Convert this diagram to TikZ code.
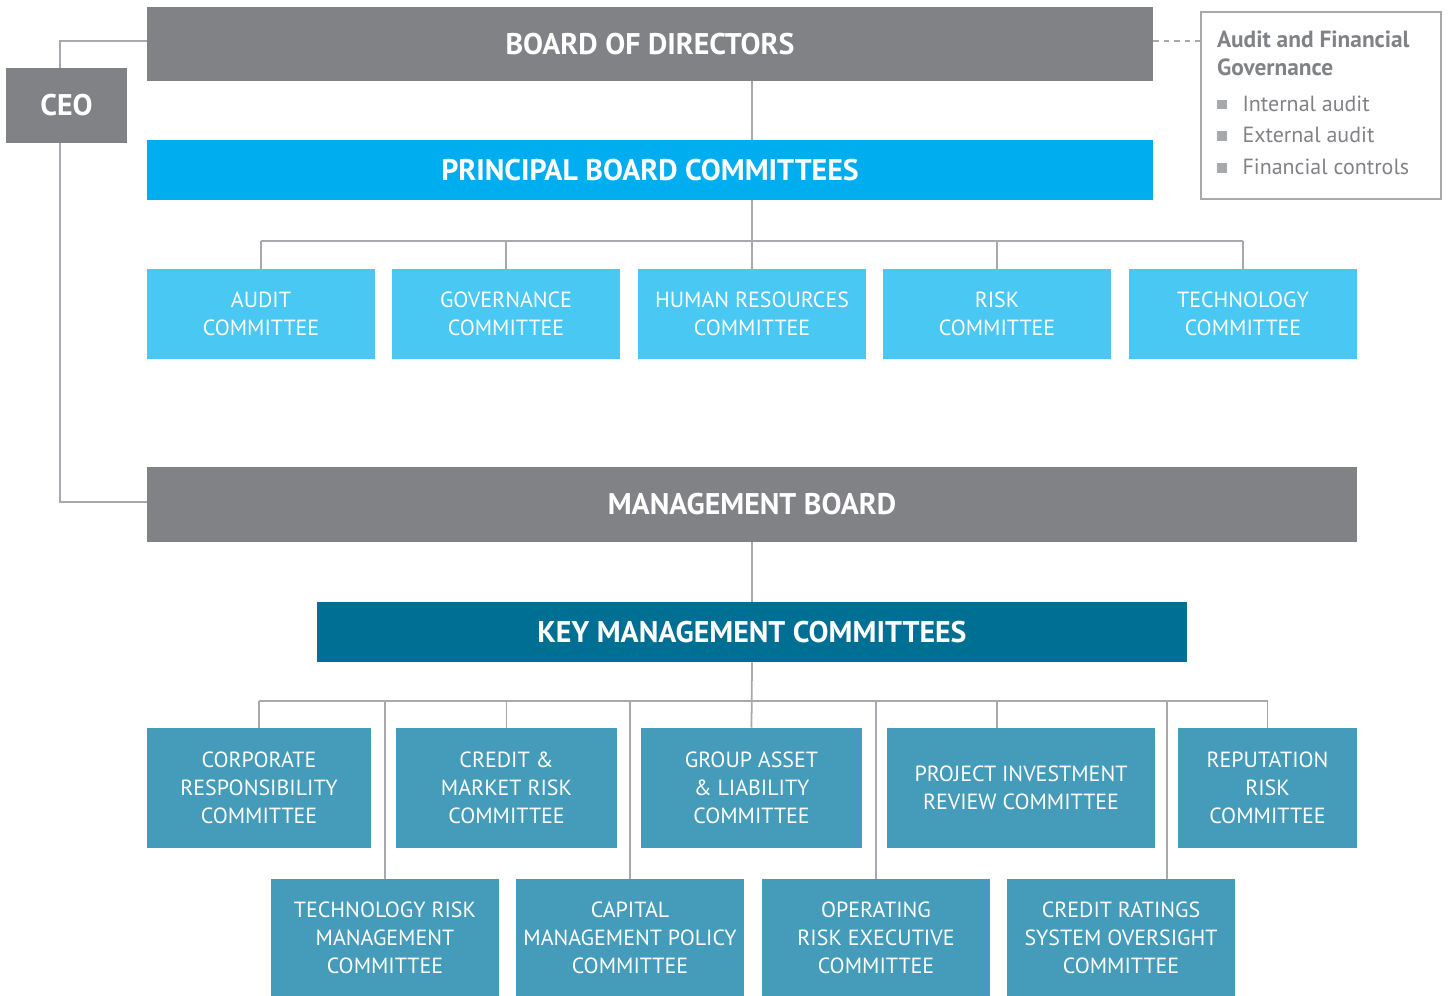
\documentclass[tikz,border=0pt]{standalone}
\usepackage{fontspec}
\setmainfont{PT Sans}
\usepackage{xcolor}
\usepackage{tikz}
\usetikzlibrary{positioning, calc}
\definecolor{boardgray}{HTML}{818286}
\definecolor{brightcyan}{HTML}{00AEEF}
\definecolor{lightcyan}{HTML}{48C8F3}
\definecolor{darkteal}{HTML}{006F94}
\definecolor{tealblue}{HTML}{459BBA}
\definecolor{linegray}{HTML}{A7A9AC}
\tikzstyle{headbox} = [rectangle, text centered, text=white, inner sep=0pt, font=\bfseries\fontsize{17}{20}\selectfont]
\tikzstyle{committee} = [rectangle, align=center, text=white, inner sep=0pt, minimum width=4.56cm, minimum height=1.8cm, fill=lightcyan, font=\fontsize{12.5}{15.9}\selectfont]
\tikzstyle{mgmtcom} = [committee, fill=tealblue, minimum height=2.4cm]
\tikzstyle{govbox} = [rectangle, draw=linegray, line width=1pt, minimum width=4.8cm, minimum height=3.74cm, inner xsep=0.32cm, text=boardgray, font=\fontsize{12.5}{16}\selectfont]
\tikzstyle{link} = [line width=1pt, draw=linegray]
\newcommand{\bsq}{\textcolor{linegray}{\rule[1pt]{5.5pt}{5.5pt}}\hspace{9pt}}
\newcommand{\govtitle}[1]{{\bfseries\fontsize{13.3}{16}\selectfont #1}}

\begin{document}
\begin{tikzpicture}[x=0.02cm, y=-0.02cm]
    \useasboundingbox (0,0) rectangle (1449,995);

    % Board level
    \node[headbox, fill=boardgray, minimum width=20.12cm, minimum height=1.48cm] (board) at (650,44) {BOARD OF DIRECTORS};
    \node[headbox, fill=boardgray, minimum width=2.42cm, minimum height=1.5cm] (ceo) at (66.5,105.5) {CEO};
    \node[govbox] (agov) at (1321,105.5) {\raisebox{0.1cm}{\begin{tabular}{@{}p{4.16cm}@{}}
        \govtitle{Audit and Financial}\\
        \govtitle{Governance}\\[4pt]
        \bsq Internal audit\\[2pt]
        \bsq External audit\\[2pt]
        \bsq Financial controls
    \end{tabular}}};
    \node[headbox, fill=brightcyan, minimum width=20.12cm, minimum height=1.2cm] (pbc) at (650,170) {PRINCIPAL BOARD COMMITTEES};

    % Principal board committees
    \node[committee] (audit) at (261,314) {AUDIT\\COMMITTEE};
    \node[committee] (gov) at (506,314) {GOVERNANCE\\COMMITTEE};
    \node[committee] (hr) at (752,314) {HUMAN RESOURCES\\COMMITTEE};
    \node[committee] (risk) at (997,314) {RISK\\COMMITTEE};
    \node[committee] (tech) at (1243,314) {TECHNOLOGY\\COMMITTEE};

    % Management level
    \node[headbox, fill=boardgray, minimum width=24.2cm, minimum height=1.5cm] (mgmt) at (752,504.5) {MANAGEMENT BOARD};
    \node[headbox, fill=darkteal, minimum width=17.4cm, minimum height=1.2cm] (kmc) at (752,632) {KEY MANAGEMENT COMMITTEES};

    % Key management committees
    \node[mgmtcom, minimum width=4.48cm] (corp) at (259,788) {CORPORATE\\RESPONSIBILITY\\COMMITTEE};
    \node[mgmtcom, minimum width=4.42cm] (credit) at (506.5,788) {CREDIT \&\\MARKET RISK\\COMMITTEE};
    \node[mgmtcom, minimum width=4.42cm] (alco) at (751.5,788) {GROUP ASSET\\\& LIABILITY\\COMMITTEE};
    \node[mgmtcom, minimum width=5.36cm] (pirc) at (1021,788) {PROJECT INVESTMENT\\REVIEW COMMITTEE};
    \node[mgmtcom, minimum width=3.58cm] (rep) at (1267.5,788) {REPUTATION\\RISK\\COMMITTEE};
    \node[mgmtcom, minimum height=2.36cm] (techrisk) at (385,938) {TECHNOLOGY RISK\\MANAGEMENT\\COMMITTEE};
    \node[mgmtcom, minimum height=2.36cm] (capital) at (630,938) {CAPITAL\\MANAGEMENT POLICY\\COMMITTEE};
    \node[mgmtcom, minimum height=2.36cm] (oprisk) at (876,938) {OPERATING\\RISK EXECUTIVE\\COMMITTEE};
    \node[mgmtcom, minimum height=2.36cm] (ratings) at (1121,938) {CREDIT RATINGS\\SYSTEM OVERSIGHT\\COMMITTEE};

    % Bus lines
    \coordinate (pbus) at (752,241);
    \coordinate (kbus) at (752,701);

    % Connections
    \draw[link] ([xshift=-0.13cm]ceo.north) |- ([yshift=0.06cm]board.west);
    \draw[link] ([xshift=-0.13cm]ceo.south) |- ([yshift=0.05cm]mgmt.west);
    \draw[link, dashed] ([yshift=0.06cm]board.east) -- ([yshift=0.06cm]board.east -| agov.west);
    \draw[link] (board.south -| hr.north) -- (pbc.north -| hr.north);
    \draw[link] (pbc.south -| hr.north) -- (hr.north);
    \draw[link] (audit.north |- pbus) -- (tech.north |- pbus);
    \foreach \c in {audit, gov, risk, tech}
        \draw[link] (\c.north) -- (\c.north |- pbus);
    \draw[link] (mgmt.south) -- (kmc.north);
    \draw[link] (kmc.south) -- (alco.north);
    \draw[link] (corp.north |- kbus) -- (rep.north |- kbus);
    \foreach \c in {corp, credit, rep}
        \draw[link] (\c.north) -- (\c.north |- kbus);
    \draw[link] ([xshift=-0.48cm]pirc.north) -- ([xshift=-0.48cm]pirc.north |- kbus);
    \foreach \c in {techrisk, capital, oprisk}
        \draw[link] (\c.north) -- (\c.north |- kbus);
    \draw[link] ([xshift=0.92cm]ratings.north) -- ([xshift=0.92cm]ratings.north |- kbus);

\end{tikzpicture}
\end{document}
